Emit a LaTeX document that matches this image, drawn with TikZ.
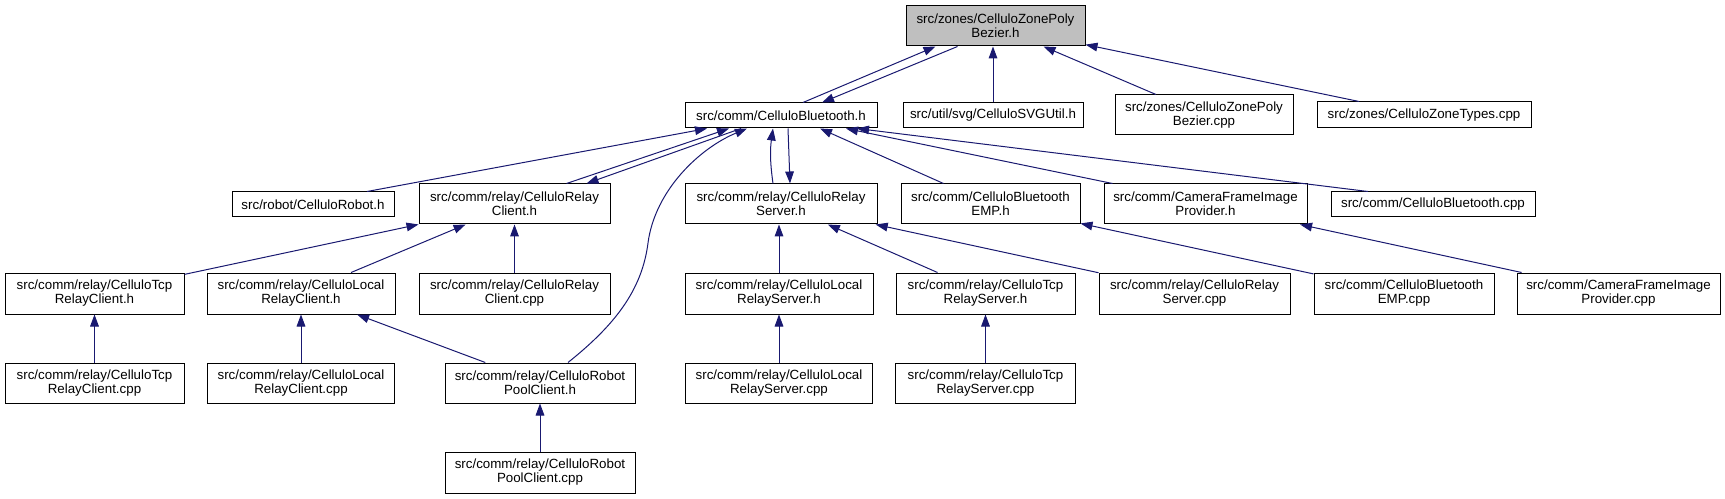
\documentclass[tikz,border=0pt]{standalone}
\usepackage{fontspec}
\setmainfont{Liberation Sans}
\usetikzlibrary{arrows.meta,calc}
\definecolor{edgeblue}{HTML}{191970}
\definecolor{rootgray}{HTML}{BFBFBF}
\begin{document}
\begin{tikzpicture}[x=0.75pt,y=-0.75pt,
  box/.style={draw=black, line width=0.75pt, fill=white, inner sep=0pt, align=center,
              font=\fontsize{10}{10.5}\selectfont},
  sz/.style 2 args={minimum width=#1*0.75pt, minimum height=#2*0.75pt},
  dep/.style={draw=edgeblue, line width=0.75pt, -{Triangle[length=9pt,width=6.5pt]}}]
\useasboundingbox (0,0) rectangle (1725,499);

% row 0
\node[box, sz={179}{40}, fill=rootgray] (root) at (995.5,26) {src/zones/CelluloZonePoly\\Bezier.h};
% row 1
\node[box, sz={192}{25}] (bth) at (781,115.5) {src/comm/CelluloBluetooth.h};
\node[box, sz={180}{25}] (svg) at (993,115.5) {src/util/svg/CelluloSVGUtil.h};
\node[box, sz={178}{40}] (zpbcpp) at (1204,115) {src/zones/CelluloZonePoly\\Bezier.cpp};
\node[box, sz={214}{26}] (ztypes) at (1424,115) {src/zones/CelluloZoneTypes.cpp};
% row 2
\node[box, sz={162}{25}] (robot) at (313,204.5) {src/robot/CelluloRobot.h};
\node[box, sz={191}{40}] (rch) at (514.5,204) {src/comm/relay/CelluloRelay\\Client.h};
\node[box, sz={192}{40}] (rsh) at (781,204) {src/comm/relay/CelluloRelay\\Server.h};
\node[box, sz={179}{40}] (emph) at (990.5,204) {src/comm/CelluloBluetooth\\EMP.h};
\node[box, sz={203}{40}] (cfiph) at (1205.5,204) {src/comm/CameraFrameImage\\Provider.h};
\node[box, sz={204}{25}] (btcpp) at (1433,204.5) {src/comm/CelluloBluetooth.cpp};
% row 3
\node[box, sz={179}{41}] (tcprch) at (94.5,293.5) {src/comm/relay/CelluloTcp\\RelayClient.h};
\node[box, sz={188}{41}] (localrch) at (301,293.5) {src/comm/relay/CelluloLocal\\RelayClient.h};
\node[box, sz={191}{41}] (rccpp) at (514.5,293.5) {src/comm/relay/CelluloRelay\\Client.cpp};
\node[box, sz={188}{41}] (localrsh) at (779,293.5) {src/comm/relay/CelluloLocal\\RelayServer.h};
\node[box, sz={179}{41}] (tcprsh) at (985.5,293.5) {src/comm/relay/CelluloTcp\\RelayServer.h};
\node[box, sz={191}{41}] (rscpp) at (1194.5,293.5) {src/comm/relay/CelluloRelay\\Server.cpp};
\node[box, sz={180}{41}] (empcpp) at (1404,293.5) {src/comm/CelluloBluetooth\\EMP.cpp};
\node[box, sz={203}{41}] (cfipcpp) at (1618.5,293.5) {src/comm/CameraFrameImage\\Provider.cpp};
% row 4
\node[box, sz={179}{40}] (tcprccpp) at (94.5,383) {src/comm/relay/CelluloTcp\\RelayClient.cpp};
\node[box, sz={187}{40}] (localrccpp) at (301,383) {src/comm/relay/CelluloLocal\\RelayClient.cpp};
\node[box, sz={190}{40}] (rpch) at (540,383) {src/comm/relay/CelluloRobot\\PoolClient.h};
\node[box, sz={187}{40}] (localrscpp) at (779,383) {src/comm/relay/CelluloLocal\\RelayServer.cpp};
\node[box, sz={180}{40}] (tcprscpp) at (985.5,383) {src/comm/relay/CelluloTcp\\RelayServer.cpp};
% row 5
\node[box, sz={190}{41}] (rpccpp) at (540,472.5) {src/comm/relay/CelluloRobot\\PoolClient.cpp};

% edges into root
\draw[dep] ($(bth.north)+(22,0)$) -- ($(root.south)+(-60,0)$);
\draw[dep] ($(root.south)+(-38,0)$) -- ($(bth.north)+(41,0)$);
\draw[dep] (svg.north) -- (svg.north |- root.south);
\draw[dep] (zpbcpp) -- (root);
\draw[dep] (ztypes) -- (root);

% edges into CelluloBluetooth.h
\draw[dep] ($(robot.north)+(54,0)$) -- ($(bth.south)+(-74,0)$);
\draw[dep] ($(rch.north)+(52,0)$) -- ($(bth.south)+(-52,0)$);
\draw[dep] ($(bth.south)+(-40,0)$) -- ($(rch.north)+(72,0)$);
\draw[dep] ($(rpch.north)+(28,0)$) .. controls (615,325) and (642,290) .. (648,243)
  .. controls (655,190) and (700,148) .. ($(bth.south)+(-34,0)$);
\draw[dep] ($(rsh.north)+(-8,0)$) to[bend left=8] ($(bth.south)+(-8,0)$);
\draw[dep] ($(bth.south)+(7,0)$) -- ($(rsh.north)+(9,0)$);
\draw[dep] ($(emph.north)+(-47,0)$) -- ($(bth.south)+(39,0)$);
\draw[dep] ($(cfiph.north)+(-93,0)$) -- ($(bth.south)+(65,0)$);
\draw[dep] ($(btcpp.north)+(-65,0)$) -- ($(bth.south)+(76,0)$);

% relay client
\draw[dep] (tcprch) -- (rch);
\draw[dep] (localrch) -- (rch);
\draw[dep] (rccpp) -- (rch);
\draw[dep] (tcprccpp) -- (tcprch);
\draw[dep] (localrccpp) -- (localrch);
\draw[dep] (rpch) -- (localrch);
\draw[dep] (rpccpp) -- (rpch);

% relay server
\draw[dep] (localrsh.north) -- (localrsh.north |- rsh.south);
\draw[dep] (tcprsh) -- (rsh);
\draw[dep] (rscpp) -- (rsh);
\draw[dep] (localrscpp) -- (localrsh);
\draw[dep] (tcprscpp) -- (tcprsh);

% others
\draw[dep] (empcpp) -- (emph);
\draw[dep] (cfipcpp) -- (cfiph);
\end{tikzpicture}
\end{document}
